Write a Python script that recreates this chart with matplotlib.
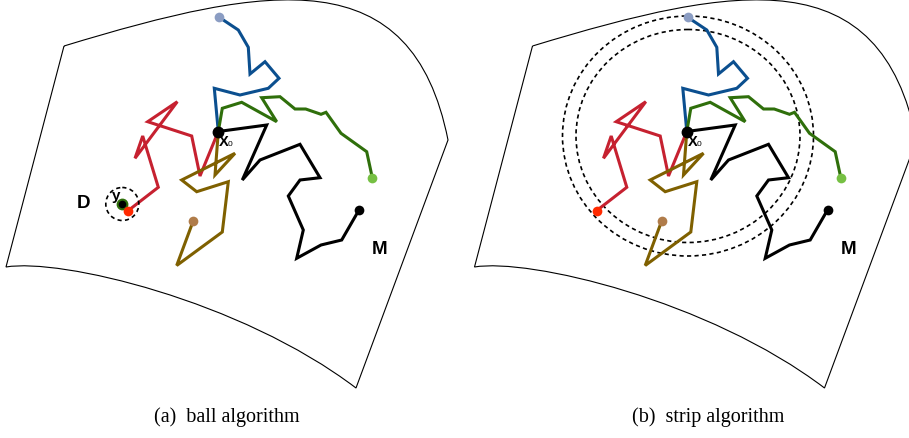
import numpy as np
import matplotlib.pyplot as plt
from matplotlib.path import Path
from matplotlib.patches import PathPatch, Ellipse


# Canvas is laid out in pixel units (origin top-left)
W, H = 909, 438
PANEL_SHIFT = 468.5  # panel (b) is panel (a) moved right

# Start point of every walk
X0 = (218.3, 131.5)

# Walks, panel (a) coordinates, starting at X0 and ending at the exit point
BLUE_X = [218.3, 214.3, 240.0, 268.3, 279.0, 265.0, 250.0, 248.3, 238.3, 223.3, 219.0]
BLUE_Y = [131.5, 88.3, 95.0, 88.3, 78.3, 61.7, 74.0, 47.3, 30.0, 20.0, 16.7]

GREEN_X = [218.3, 222.3, 241.7, 276.7, 261.7, 280.0, 295.0, 305.7, 321.0, 326.0, 341.0, 366.7, 372.3]
GREEN_Y = [131.5, 108.3, 102.3, 121.7, 97.7, 96.7, 109.0, 109.0, 114.3, 112.3, 133.3, 151.7, 177.7]

BLACK_X = [218.3, 266.7, 242.3, 260.0, 300.0, 320.0, 300.0, 288.3, 303.3, 296.7, 321.0, 341.7, 359.0]
BLACK_Y = [131.5, 125.0, 180.0, 160.0, 144.3, 177.7, 180.0, 196.0, 230.0, 258.3, 245.0, 240.0, 210.0]

RED_X = [218.3, 200.0, 191.7, 147.7, 177.3, 135.0, 142.7, 158.3, 128.3]
RED_Y = [131.5, 176.0, 136.0, 121.7, 101.7, 158.3, 136.0, 187.3, 210.5]

OLIVE_X = [218.3, 215.0, 235.0, 181.7, 196.7, 228.3, 222.3, 176.7, 193.3]
OLIVE_Y = [131.5, 175.0, 153.3, 180.0, 191.7, 181.7, 232.0, 265.5, 220.7]

WALK_COLORS = ["#0b4f8f", "#2f6f0b", "black", "#c62130", "#7f6000"]
END_COLORS = ["#8b9dc3", "#76c043", "black", "#ff2a00", "#b07c4a"]

# Manifold outline: corners and bezier control points
TOP = [(64, 46), (271, -17), (412, -40), (448, 140)]
RIGHT = [(448, 140), (356, 388)]
BOTTOM = [(356, 388), (240, 300), (60, 258), (6, 267)]

# Target point y and its small ball (panel a)
Y_PT = (122.3, 204.0)
BALL_R = 16.5

# Strip around X0 (panel b), in panel b coordinates
STRIP_CENTER = (688.0, 136.0)
STRIP_OUTER = (251.0, 240.0)
STRIP_INNER = (224.0, 213.0)

CAPTIONS = ["(a)  ball algorithm", "(b)  strip algorithm"]


def manifold_patch(dx):
    verts = [(x + dx, y) for x, y in TOP + RIGHT[1:] + BOTTOM[1:]]
    verts.append((TOP[0][0] + dx, TOP[0][1]))
    codes = ([Path.MOVETO] + [Path.CURVE4] * 3 + [Path.LINETO]
             + [Path.CURVE4] * 3 + [Path.LINETO])
    return PathPatch(Path(verts, codes), facecolor="none", edgecolor="black", lw=0.8)


def draw_panel(ax, dx):
    ax.add_patch(manifold_patch(dx))

    walks = [(BLUE_X, BLUE_Y), (GREEN_X, GREEN_Y), (BLACK_X, BLACK_Y),
             (RED_X, RED_Y), (OLIVE_X, OLIVE_Y)]
    for (xs, ys), c, ec in zip(walks, WALK_COLORS, END_COLORS):
        xs = np.array(xs) + dx
        ax.plot(xs, ys, color=c, lw=2.2, solid_joinstyle="miter", zorder=3)
        ax.plot(xs[-1], ys[-1], "o", color=ec, ms=7, mec="none", zorder=5)

    ax.plot(X0[0] + dx, X0[1], "o", color="black", ms=7.5, zorder=6)
    ax.text(X0[0] + dx + 1, X0[1] + 11, "X", fontsize=10.5, fontweight="bold",
            family="Liberation Sans", va="center", ha="left", zorder=7)
    ax.text(X0[0] + dx + 9.5, X0[1] + 12.5, "0", fontsize=6,
            family="Liberation Sans", va="center", ha="left", zorder=7)
    ax.text(380 + dx, 250, "M", fontsize=13.5, fontweight="bold",
            family="Liberation Sans", ha="center", va="center")


fig = plt.figure(figsize=(W / 100, H / 100), dpi=100)
ax = fig.add_axes([0, 0, 1, 1])
ax.set_xlim(0, W)
ax.set_ylim(H, 0)
ax.axis("off")

# --- (a) ball algorithm
draw_panel(ax, 0)
ax.add_patch(Ellipse(Y_PT, 2 * BALL_R, 2 * BALL_R, fill=False, color="black",
                     lw=1.2, linestyle=(0, (2.5, 2)), zorder=4))
ax.plot(*Y_PT, "o", color="black", mec="#2f6f0b", mew=1.5, ms=7, zorder=4)
ax.text(116, 196, "y", fontsize=11, fontweight="bold", family="Liberation Sans",
        ha="center", va="center", zorder=7)
ax.text(83, 204, "D", fontsize=13.5, fontweight="bold", family="Liberation Sans",
        ha="center", va="center")

# --- (b) strip algorithm
draw_panel(ax, PANEL_SHIFT)
for w, h in (STRIP_OUTER, STRIP_INNER):
    ax.add_patch(Ellipse(STRIP_CENTER, w, h, fill=False, color="black",
                         lw=1.2, linestyle=(0, (2.5, 2)), zorder=2))

for cx, text in zip([227, 708], CAPTIONS):
    ax.text(cx, 417, text, fontsize=14.5, family="Liberation Serif",
            ha="center", va="center")

fig.savefig("out.png", dpi=100, facecolor="white")
